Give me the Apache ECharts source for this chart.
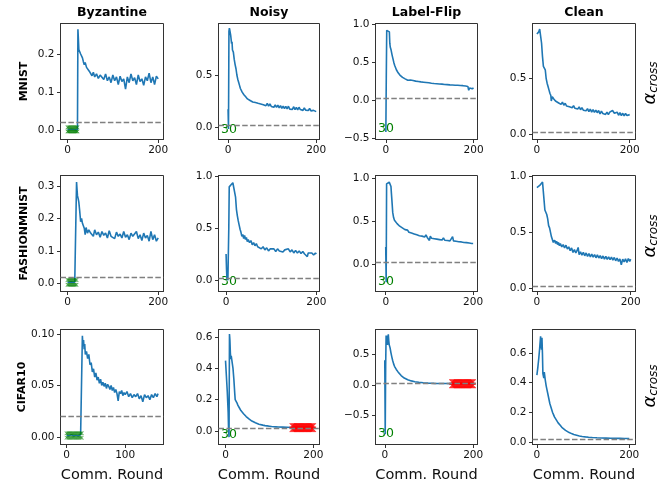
<!DOCTYPE html>
<html>
<head>
<meta charset="utf-8">
<script src="https://cdn.jsdelivr.net/npm/echarts@6/dist/echarts.min.js"></script>
<style>
html, body { margin: 0; padding: 0; background: #fff; }
#main { width: 670px; height: 482px; }
</style>
</head>
<body>
<div id="main"></div>
<script>
var datasets = ['MNIST', 'FASHIONMNIST', 'CIFAR10'];
var attacks = ['Byzantine', 'Noisy', 'Label-Flip', 'Clean'];
var threshold = 0.02; // dashed line
var startLabel = '30';

// alpha_cross per comm. round, [round, value]
var mnistByz = [[0,0.002],[4,0.001],[8,0.003],[12,0.0],[16,0.002],[20,0.001],[22,0.002],[23,0.265],[24,0.24],[25,0.212],[27,0.208],[29,0.2],[31,0.205],[33,0.19],[35,0.18],[37,0.172],[39,0.178],[42,0.165],[45,0.17],[48,0.155],[51,0.15],[54,0.143],[57,0.152],[60,0.14],[64,0.148],[68,0.136],[72,0.145],[76,0.14],[80,0.133],[84,0.148],[88,0.13],[92,0.14],[96,0.125],[100,0.145],[104,0.13],[108,0.14],[112,0.12],[116,0.142],[120,0.128],[124,0.135],[128,0.108],[132,0.14],[136,0.125],[140,0.148],[144,0.13],[148,0.138],[152,0.12],[156,0.145],[160,0.128],[164,0.135],[168,0.118],[172,0.14],[176,0.13],[180,0.15],[184,0.125],[188,0.14],[192,0.12],[196,0.142],[200,0.135]];
var mnistNoisy = [[0,0.17],[1,-0.02],[2,0.92],[3,0.95],[4,0.93],[5,0.94],[6,0.88],[7,0.84],[8,0.8],[9,0.82],[10,0.74],[12,0.72],[14,0.65],[16,0.6],[18,0.56],[20,0.5],[22,0.46],[24,0.43],[26,0.4],[28,0.37],[30,0.36],[32,0.335],[34,0.32],[36,0.31],[38,0.305],[40,0.29],[42,0.285],[44,0.27],[46,0.265],[48,0.27],[50,0.255],[53,0.27],[56,0.24],[59,0.258],[62,0.235],[65,0.25],[68,0.228],[71,0.245],[74,0.222],[77,0.24],[80,0.215],[83,0.232],[86,0.205],[89,0.228],[92,0.2],[95,0.222],[98,0.198],[101,0.215],[104,0.19],[107,0.212],[110,0.188],[113,0.21],[116,0.185],[119,0.205],[122,0.18],[125,0.2],[128,0.178],[131,0.198],[134,0.175],[137,0.2],[140,0.172],[143,0.19],[146,0.17],[149,0.195],[152,0.168],[155,0.188],[158,0.165],[161,0.19],[164,0.168],[167,0.185],[170,0.16],[173,0.185],[176,0.162],[179,0.18],[182,0.158],[185,0.178],[188,0.155],[191,0.172],[194,0.16],[197,0.165],[200,0.148]];
var mnistFlip = [[0,-0.42],[1,0.3],[2,0.92],[4,0.94],[6,0.94],[8,0.9],[9,0.75],[10,0.7],[12,0.66],[14,0.6],[16,0.55],[18,0.5],[20,0.46],[22,0.43],[24,0.4],[26,0.38],[28,0.36],[30,0.345],[32,0.33],[34,0.32],[36,0.315],[38,0.3],[40,0.295],[42,0.29],[44,0.28],[46,0.275],[48,0.27],[50,0.262],[53,0.25],[56,0.265],[59,0.242],[62,0.258],[65,0.238],[68,0.25],[71,0.23],[74,0.245],[77,0.225],[80,0.24],[83,0.22],[86,0.236],[89,0.215],[92,0.232],[95,0.21],[98,0.228],[101,0.205],[104,0.222],[107,0.2],[110,0.218],[113,0.198],[116,0.215],[119,0.195],[122,0.212],[125,0.19],[128,0.21],[131,0.19],[134,0.205],[137,0.186],[140,0.204],[143,0.184],[146,0.2],[149,0.18],[152,0.198],[155,0.178],[158,0.196],[161,0.176],[164,0.195],[167,0.175],[170,0.192],[173,0.172],[176,0.19],[179,0.17],[182,0.185],[185,0.165],[187,0.18],[189,0.13],[191,0.16],[193,0.135],[195,0.165],[197,0.15],[200,0.16]];
var mnistClean = [[0,0.9],[2,0.91],[4,0.92],[6,0.945],[8,0.93],[10,0.82],[12,0.7],[14,0.61],[16,0.6],[18,0.58],[20,0.5],[22,0.46],[24,0.43],[26,0.4],[28,0.37],[30,0.35],[31,0.3],[33,0.34],[36,0.32],[38,0.31],[40,0.3],[43,0.31],[46,0.285],[49,0.3],[52,0.27],[55,0.29],[58,0.262],[61,0.28],[64,0.255],[67,0.272],[70,0.248],[73,0.265],[76,0.24],[79,0.258],[82,0.235],[85,0.252],[88,0.228],[91,0.248],[94,0.222],[97,0.24],[100,0.218],[103,0.235],[106,0.212],[109,0.232],[112,0.205],[115,0.228],[118,0.2],[121,0.222],[124,0.198],[127,0.218],[130,0.195],[133,0.215],[136,0.185],[139,0.21],[142,0.188],[145,0.205],[148,0.18],[151,0.2],[154,0.178],[157,0.2],[160,0.185],[163,0.215],[165,0.225],[167,0.19],[170,0.18],[173,0.2],[176,0.172],[179,0.195],[182,0.17],[185,0.19],[188,0.168],[191,0.188],[194,0.17],[197,0.185],[200,0.178]];

var fmnistByz = [[0,0.004],[4,0.002],[8,0.005],[12,0.003],[16,0.004],[19,0.003],[20,0.312],[21,0.29],[22,0.27],[24,0.258],[25,0.25],[27,0.222],[29,0.19],[31,0.2],[33,0.185],[35,0.19],[37,0.17],[39,0.15],[41,0.172],[44,0.155],[47,0.165],[51,0.155],[54,0.16],[57,0.145],[60,0.165],[64,0.15],[68,0.158],[72,0.142],[76,0.16],[80,0.148],[84,0.155],[88,0.14],[92,0.162],[96,0.145],[100,0.15],[104,0.138],[108,0.158],[112,0.145],[116,0.152],[120,0.14],[124,0.16],[128,0.142],[132,0.15],[136,0.135],[140,0.155],[144,0.145],[148,0.14],[152,0.16],[156,0.138],[160,0.15],[164,0.132],[168,0.155],[172,0.14],[176,0.148],[180,0.13],[184,0.16],[188,0.135],[192,0.15],[196,0.13],[200,0.14]];
var fmnistNoisy = [[0,0.25],[1,0.1],[2,0.0],[3,0.02],[4,-0.005],[5,0.0],[6,0.5],[7,0.9],[9,0.91],[11,0.92],[13,0.925],[15,0.94],[17,0.95],[19,0.93],[21,0.8],[23,0.68],[25,0.62],[27,0.57],[29,0.53],[31,0.49],[33,0.46],[35,0.42],[37,0.44],[39,0.4],[41,0.43],[43,0.39],[45,0.41],[47,0.37],[49,0.39],[52,0.36],[55,0.38],[58,0.34],[61,0.36],[64,0.33],[67,0.35],[70,0.32],[74,0.335],[78,0.3],[82,0.32],[86,0.29],[90,0.31],[94,0.28],[98,0.3],[102,0.285],[106,0.3],[110,0.275],[114,0.3],[118,0.28],[122,0.295],[126,0.27],[130,0.29],[134,0.285],[138,0.3],[142,0.27],[146,0.29],[150,0.26],[154,0.285],[158,0.26],[162,0.28],[166,0.255],[170,0.275],[174,0.25],[178,0.265],[180,0.225],[182,0.26],[186,0.245],[190,0.26],[194,0.24],[198,0.26],[200,0.25]];
var fmnistFlip = [[0,0.2],[1,-0.21],[2,0.93],[4,0.94],[6,0.945],[8,0.95],[10,0.94],[12,0.9],[13,0.82],[14,0.75],[16,0.6],[18,0.54],[20,0.51],[22,0.5],[24,0.49],[26,0.47],[28,0.465],[30,0.45],[32,0.44],[34,0.43],[36,0.425],[38,0.42],[40,0.41],[42,0.415],[44,0.4],[46,0.405],[48,0.39],[50,0.395],[53,0.37],[56,0.39],[59,0.36],[62,0.38],[65,0.35],[68,0.37],[71,0.34],[74,0.36],[77,0.33],[80,0.35],[83,0.325],[86,0.345],[89,0.315],[92,0.34],[95,0.31],[98,0.33],[100,0.275],[102,0.325],[105,0.3],[108,0.32],[111,0.295],[114,0.318],[117,0.29],[120,0.31],[123,0.285],[126,0.308],[129,0.28],[132,0.305],[135,0.278],[138,0.3],[141,0.275],[144,0.295],[147,0.27],[150,0.29],[153,0.32],[155,0.27],[158,0.29],[161,0.265],[164,0.285],[167,0.26],[170,0.282],[173,0.258],[176,0.278],[179,0.252],[182,0.272],[185,0.25],[188,0.268],[191,0.245],[194,0.262],[197,0.24],[200,0.24]];
var fmnistClean = [[0,0.9],[2,0.905],[4,0.91],[6,0.92],[8,0.915],[10,0.93],[12,0.95],[13,0.94],[15,0.8],[17,0.7],[19,0.7],[21,0.66],[23,0.62],[25,0.56],[27,0.54],[29,0.5],[31,0.46],[33,0.45],[35,0.41],[38,0.43],[40,0.4],[42,0.42],[44,0.39],[46,0.41],[48,0.38],[50,0.4],[53,0.37],[56,0.39],[59,0.36],[62,0.385],[65,0.35],[68,0.37],[71,0.335],[74,0.36],[77,0.32],[80,0.345],[83,0.315],[86,0.34],[88,0.365],[90,0.3],[93,0.325],[96,0.295],[99,0.32],[102,0.29],[105,0.315],[108,0.285],[111,0.31],[114,0.28],[117,0.305],[120,0.278],[123,0.3],[126,0.272],[129,0.298],[132,0.27],[135,0.292],[138,0.265],[141,0.288],[144,0.26],[147,0.285],[150,0.258],[153,0.28],[156,0.255],[159,0.278],[162,0.25],[165,0.275],[168,0.245],[171,0.27],[174,0.24],[177,0.262],[180,0.21],[183,0.26],[186,0.235],[189,0.262],[192,0.23],[195,0.265],[198,0.24],[200,0.26]];

var cifarByz = [[0,0.0015],[4,0.001],[8,0.002],[12,0.001],[16,0.0015],[20,0.001],[24,0.002],[26,0.002],[27,0.098],[28,0.088],[29,0.094],[30,0.085],[31,0.09],[32,0.08],[34,0.083],[36,0.076],[38,0.08],[40,0.07],[42,0.072],[44,0.063],[46,0.066],[48,0.058],[50,0.062],[52,0.055],[54,0.058],[56,0.052],[58,0.056],[60,0.05],[62,0.053],[64,0.049],[66,0.052],[68,0.047],[70,0.051],[72,0.049],[74,0.046],[76,0.05],[78,0.045],[80,0.048],[82,0.043],[84,0.046],[86,0.042],[88,0.035],[90,0.044],[92,0.042],[94,0.045],[96,0.04],[98,0.043],[100,0.041],[103,0.044],[106,0.039],[109,0.042],[112,0.038],[115,0.041],[118,0.039],[121,0.042],[124,0.037],[127,0.04],[130,0.034],[133,0.041],[136,0.038],[139,0.04],[142,0.036],[145,0.041],[148,0.038],[151,0.042],[154,0.039],[156,0.042]];
var cifarNoisy = [[0,0.45],[2,0.35],[4,0.25],[6,0.12],[7,0.0],[8,-0.04],[9,0.62],[10,0.58],[11,0.5],[12,0.46],[13,0.48],[14,0.47],[15,0.44],[17,0.4],[19,0.33],[21,0.24],[22,0.2],[24,0.195],[26,0.18],[28,0.165],[30,0.155],[32,0.145],[35,0.13],[38,0.12],[41,0.11],[44,0.1],[47,0.092],[50,0.085],[54,0.075],[57,0.068],[60,0.063],[64,0.057],[68,0.052],[72,0.047],[76,0.043],[80,0.04],[85,0.037],[90,0.034],[95,0.032],[100,0.03],[105,0.028],[110,0.027],[115,0.026],[120,0.025],[130,0.024],[140,0.023],[150,0.022],[160,0.022],[170,0.021],[180,0.021],[190,0.021],[200,0.02]];
var cifarFlip = [[0,0.4],[1,-0.8],[2,0.3],[3,0.8],[4,0.72],[5,0.8],[6,0.65],[7,0.7],[8,0.82],[9,0.72],[10,0.65],[12,0.6],[14,0.52],[16,0.45],[18,0.39],[20,0.34],[22,0.3],[24,0.27],[26,0.25],[28,0.23],[30,0.21],[33,0.18],[37,0.15],[40,0.13],[44,0.11],[48,0.095],[52,0.082],[56,0.072],[60,0.064],[64,0.057],[68,0.051],[72,0.046],[77,0.041],[82,0.037],[87,0.033],[92,0.03],[98,0.028],[105,0.026],[112,0.024],[120,0.023],[130,0.022],[140,0.021],[150,0.02],[160,0.02],[170,0.02],[180,0.019],[190,0.019],[200,0.019]];
var cifarClean = [[0,0.45],[2,0.5],[4,0.56],[6,0.63],[8,0.71],[9,0.72],[10,0.62],[11,0.7],[12,0.6],[13,0.46],[14,0.47],[15,0.43],[16,0.47],[18,0.42],[20,0.38],[22,0.35],[24,0.32],[26,0.29],[28,0.26],[30,0.24],[32,0.22],[34,0.2],[36,0.185],[38,0.17],[40,0.16],[43,0.145],[46,0.13],[50,0.115],[54,0.1],[58,0.09],[62,0.08],[66,0.072],[70,0.065],[75,0.058],[80,0.052],[86,0.047],[92,0.042],[98,0.039],[105,0.036],[112,0.034],[120,0.032],[130,0.03],[140,0.029],[150,0.028],[160,0.027],[170,0.026],[180,0.026],[190,0.025],[200,0.025]];

var panelData = [mnistByz, mnistNoisy, mnistFlip, mnistClean,
                 fmnistByz, fmnistNoisy, fmnistFlip, fmnistClean,
                 cifarByz, cifarNoisy, cifarFlip, cifarClean];

// flagged clients (markers): rounds and levels
var byzRounds = [[0,2,4,6,8,10,12,14,16,18,20,22], [0,2,4,6,8,10,12,14,16,18,20], [0,2,4,6,8,10,12,14,16,18,20,22,24,26]];
var byzLevels = [[0.008, -0.003], [0.011, -0.004], [0.0035, -0.0008]];
var flipRounds = [152,154,156,158,160,162,164,166,168,170,172,174,176,178,180,182,184,186,188,190,192,194,196,198,200];
var flipLevels = {9: [0.032, 0.01], 10: [0.045, -0.01]};

// ticks
var xTicks = [[0,200],[0,200],[0,200],[0,200],[0,200],[0,200],[0,200],[0,200],[0,100],[0,200],[0,200],[0,200]];
var yTicks = [[0,0.1,0.2],[0,0.5],[-0.5,0,0.5,1],[0,0.5],
              [0,0.1,0.2,0.3],[0,0.5,1],[0,0.5,1],[0,0.5,1],
              [0,0.05,0.1],[0,0.2,0.4,0.6],[-0.5,0,0.5],[0,0.2,0.4,0.6]];
var yDecimals = [1,1,1,1, 1,1,1,1, 2,1,1,1];

// axis ranges
var xRanges = [[-15.4,211.7],[-21.7,207.5],[-23.6,209],[-9.5,212.5],
               [-15.4,211.7],[-16.8,207],[-23.4,210],[-9.4,210.3],
               [-10.3,165.3],[-16,214],[-21,209.8],[-9.5,213.5]];
var yRanges = [[-0.024,0.28],[-0.12,0.995],[-0.52,1.01],[-0.045,0.995],
               [-0.0245,0.332],[-0.113,1.01],[-0.316,1.027],[-0.03,1.009],
               [-0.0074,0.1042],[-0.087,0.649],[-0.968,0.898],[-0.015,0.756]];

// layout (px)
var colX = [[60.5,163.5],[218.5,319.5],[375.5,477.5],[532.5,635.5]];
var rowY = [[23.5,139.5],[175.5,291.5],[329.5,444.5]];

var FONT = '"DejaVu Sans", sans-serif';
var BLUE = '#1f77b4';
var xMark = 'path://M0,1L1,0L5,4L9,0L10,1L6,5L10,9L9,10L5,6L1,10L0,9L4,5Z';

function fmt(v, d) {
    return v.toFixed(d).replace('-', '\u2212');
}

var option = {
    animation: false,
    backgroundColor: '#fff',
    grid: [], xAxis: [], yAxis: [], series: [], graphic: []
};

for (var i = 0; i < 12; i++) {
    var r = Math.floor(i / 4), c = i % 4;
    option.grid.push({
        left: colX[c][0], top: rowY[r][0],
        width: colX[c][1] - colX[c][0], height: rowY[r][1] - rowY[r][0],
        show: true, borderColor: '#333', borderWidth: 1,
        containLabel: false, outerBoundsMode: 'none'
    });
    option.xAxis.push({
        type: 'value', gridIndex: i, min: xRanges[i][0], max: xRanges[i][1],
        axisLine: { show: true, onZero: false, lineStyle: { color: '#333', width: 1 } },
        axisTick: { show: true, length: 3.5, customValues: xTicks[i], lineStyle: { color: '#333' } },
        axisLabel: { customValues: xTicks[i], margin: 5, color: '#111', fontSize: 10.5, fontFamily: FONT,
            formatter: function (v) { return fmt(v, 0); } },
        splitLine: { show: false },
        name: r == 2 ? 'Comm. Round' : '', nameLocation: 'middle', nameGap: 23,
        nameTextStyle: { fontSize: 14.5, fontFamily: FONT, color: '#111' }
    });
    (function (d) {
        option.yAxis.push({
            type: 'value', gridIndex: i, min: yRanges[i][0], max: yRanges[i][1],
            axisLine: { show: true, onZero: false, lineStyle: { color: '#333', width: 1 } },
            axisTick: { show: true, length: 3.5, customValues: yTicks[i], lineStyle: { color: '#333' } },
            axisLabel: { customValues: yTicks[i], margin: 6, color: '#111', fontSize: 10.5, fontFamily: FONT,
                formatter: function (v) { return fmt(v, d); } },
            splitLine: { show: false },
            name: c == 0 ? datasets[r] : '', nameLocation: 'middle', nameGap: 31,
            nameTextStyle: { fontSize: 11, fontWeight: 'bold', fontFamily: FONT, color: '#000' }
        });
    })(yDecimals[i]);

    option.series.push({
        type: 'line', xAxisIndex: i, yAxisIndex: i, data: panelData[i],
        showSymbol: false, symbol: 'none',
        lineStyle: { color: BLUE, width: 1.6 }, itemStyle: { color: BLUE },
        z: 3,
        markLine: {
            silent: true, symbol: 'none', label: { show: false },
            lineStyle: { color: '#808080', type: [5.5, 2.4], width: 1.4 },
            data: [{ yAxis: threshold }]
        }
    });

    if (c == 0) {
        var pts = [];
        byzLevels[r].forEach(function (lv) {
            byzRounds[r].forEach(function (x) { pts.push([x, lv]); });
        });
        option.series.push({
            type: 'scatter', xAxisIndex: i, yAxisIndex: i, data: pts,
            symbol: xMark, symbolSize: 4, itemStyle: { color: 'green' }, z: 4
        });
    }
    if (flipLevels[i]) {
        var rpts = [];
        flipLevels[i].forEach(function (lv) {
            flipRounds.forEach(function (x) { rpts.push([x, lv]); });
        });
        option.series.push({
            type: 'scatter', xAxisIndex: i, yAxisIndex: i, data: rpts,
            symbol: xMark, symbolSize: 6, itemStyle: { color: 'red' }, z: 4
        });
    }
}

// column titles
for (var c2 = 0; c2 < 4; c2++) {
    option.graphic.push({
        type: 'text', x: (colX[c2][0] + colX[c2][1]) / 2, y: 12.5,
        style: { text: attacks[c2], align: 'center', verticalAlign: 'middle',
            fontSize: 12.5, fontWeight: 'bold', fontFamily: FONT, fill: '#000' }
    });
}

// alpha_cross labels on the right
var alphaY = [83, 236, 386];
alphaY.forEach(function (y) {
    option.graphic.push({
        type: 'text', x: 650, y: y, rotation: Math.PI / 2,
        style: {
            text: '{a|α}{b|cross}', align: 'center', verticalAlign: 'middle', fill: '#000',
            rich: {
                a: { fontSize: 18, fontStyle: 'italic', fontFamily: FONT, fill: '#000', lineHeight: 20 },
                b: { fontSize: 12, fontStyle: 'italic', fontFamily: FONT, fill: '#000', verticalAlign: 'bottom', lineHeight: 12 }
            }
        }
    });
});

// "30" annotations
var startPos = [[221, 129.5], [378, 129], [221, 282], [378, 282], [221, 435], [378, 434]];
startPos.forEach(function (p) {
    option.graphic.push({
        type: 'text', x: p[0], y: p[1],
        style: { text: startLabel, align: 'left', verticalAlign: 'middle',
            fontSize: 12.5, fontFamily: FONT, fill: '#008000' }
    });
});

var myChart = echarts.init(document.getElementById('main'), null, { renderer: 'canvas' });
myChart.setOption(option);
</script>
</body>
</html>
